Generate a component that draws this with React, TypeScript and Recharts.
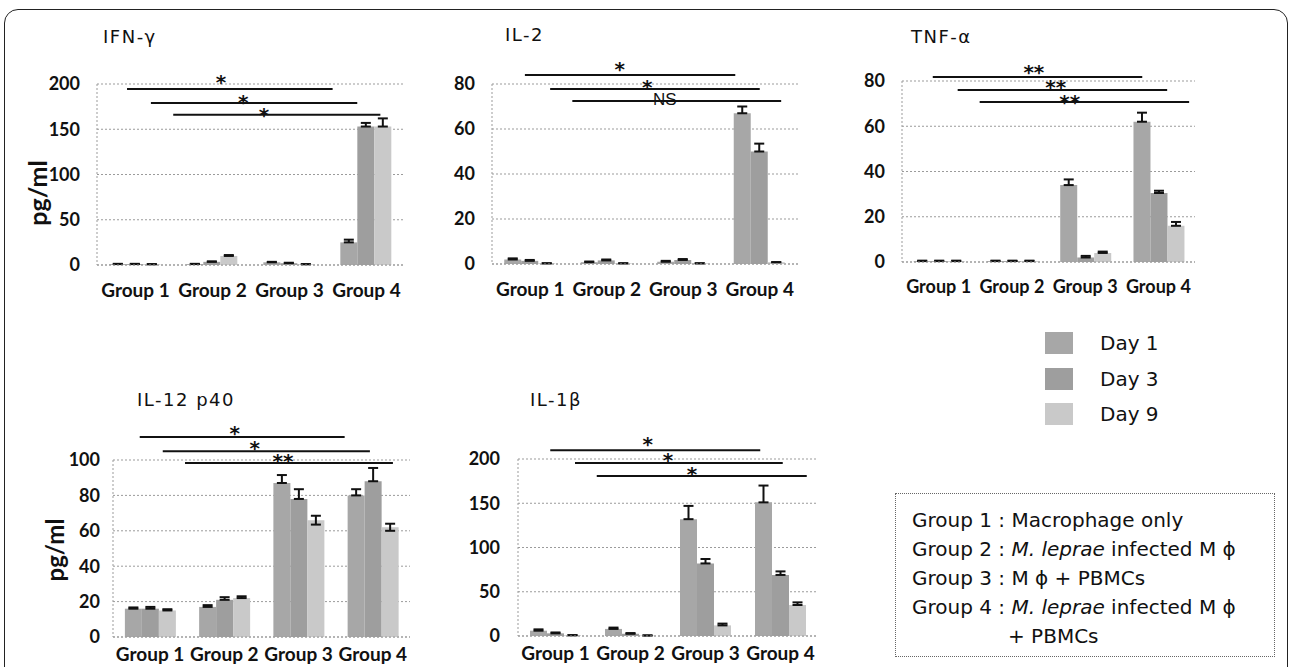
import React from 'react';
import { BarChart, Bar, XAxis, YAxis, CartesianGrid, ErrorBar, ReferenceLine, ReferenceDot } from 'recharts';

const groups = ['Group 1', 'Group 2', 'Group 3', 'Group 4'];
const days = ['Day 1', 'Day 3', 'Day 9'];
const dayColors = ['#a7a7a7', '#9e9e9e', '#c9c9c9'];

// rows = Day 1, Day 3, Day 9 ; columns = Group 1..4 (pg/ml)
const ifnValues = [
  [1, 1, 3, 25],
  [1, 3.5, 2, 153],
  [0.8, 10, 0.8, 153],
];
const ifnErrors = [
  [0.3, 0.3, 0.5, 3],
  [0.3, 0.5, 0.5, 4],
  [0.2, 1, 0.2, 9],
];

const il2Values = [
  [2, 0.8, 1, 67],
  [1.4, 1.6, 1.8, 50],
  [0.3, 0.3, 0.3, 0.8],
];
const il2Errors = [
  [0.5, 0.3, 0.4, 3],
  [0.4, 0.4, 0.4, 3.5],
  [0, 0, 0, 0],
];

const tnfValues = [
  [0.4, 0.4, 34, 62],
  [0.4, 0.4, 2, 30.5],
  [0.4, 0.4, 4, 16],
];
const tnfErrors = [
  [0.2, 0.2, 2.5, 4],
  [0.2, 0.2, 0.7, 1],
  [0.2, 0.2, 0.6, 1.7],
];

const il12Values = [
  [16, 17, 87, 80],
  [16, 21, 78, 88],
  [15, 22, 66, 62],
];
const il12Errors: (number | [number, number])[][] = [
  [0.7, 1, 4.5, 3.5],
  [1, 1.5, 5.5, 7.5],
  [0.7, 1, [2.5, 2.5], [2, 2]],
];

const il1bValues = [
  [6, 8, 132, 151],
  [3, 2.5, 82, 69],
  [0.8, 0.5, 12, 35],
];
const il1bErrors = [
  [1.5, 1.5, 15, 19],
  [1, 0.8, 5, 4],
  [0.2, 0.2, 2, 3],
];

// significance brackets: x in category units (0..4), y in pg/ml
type Bracket = { x1: number; x2: number; y: number; mark: string; mx: number; my: number };

const ifnBrackets: Bracket[] = [
  { x1: 0.39, x2: 3.06, y: 194.5, mark: '*', mx: 1.61, my: 208 },
  { x1: 0.7, x2: 3.38, y: 179, mark: '*', mx: 1.9, my: 186 },
  { x1: 0.99, x2: 3.68, y: 166, mark: '*', mx: 2.17, my: 171 },
];
const il2Brackets: Bracket[] = [
  { x1: 0.43, x2: 3.18, y: 84, mark: '*', mx: 1.67, my: 88.9 },
  { x1: 0.76, x2: 3.5, y: 77.8, mark: '*', mx: 2.03, my: 80.9 },
  { x1: 1.05, x2: 3.78, y: 72.4, mark: 'NS', mx: 2.26, my: 73.3 },
];
const tnfBrackets: Bracket[] = [
  { x1: 0.42, x2: 3.28, y: 81.8, mark: '**', mx: 1.8, my: 86.2 },
  { x1: 0.76, x2: 3.62, y: 76, mark: '**', mx: 2.1, my: 79.6 },
  { x1: 1.06, x2: 3.92, y: 70.7, mark: '**', mx: 2.29, my: 72.9 },
];
const il12Brackets: Bracket[] = [
  { x1: 0.36, x2: 3.12, y: 113, mark: '*', mx: 1.64, my: 118 },
  { x1: 0.67, x2: 3.46, y: 105, mark: '*', mx: 1.91, my: 109.6 },
  { x1: 0.97, x2: 3.77, y: 98.3, mark: '**', mx: 2.29, my: 102 },
];
const il1bBrackets: Bracket[] = [
  { x1: 0.43, x2: 3.23, y: 210, mark: '*', mx: 1.73, my: 222.6 },
  { x1: 0.76, x2: 3.53, y: 195.5, mark: '*', mx: 2.0, my: 204.5 },
  { x1: 1.05, x2: 3.85, y: 180.8, mark: '*', mx: 2.32, my: 188.7 },
];

const ticks200 = [0, 50, 100, 150, 200];
const ticks80 = [0, 20, 40, 60, 80];
const ticks100 = [0, 20, 40, 60, 80, 100];

const valueKeys = ['d1', 'd3', 'd9'];
const errorKeys = ['e1', 'e3', 'e9'];

const toErr = (e: number | [number, number]) => (typeof e === 'number' ? [0, e] : e);

const grid = '#9b9b9b';
const axisFont = 'Lato, "Open Sans", sans-serif';

type PanelProps = {
  left: number;
  top: number;
  width: number;
  height: number;
  xHeight: number;
  values: number[][];
  errors: (number | [number, number])[][];
  max: number;
  ticks: number[];
  brackets: Bracket[];
  yTickMargin: number;
  xTickMargin: number;
  fontSize: number;
  xFontSize: number;
};

function MarkText(props: any) {
  const { cx, cy, mark } = props;
  const isNS = mark === 'NS';
  return (
    <text
      x={cx}
      y={cy}
      dy={isNS ? '0.36em' : '0.6em'}
      textAnchor="middle"
      fill="#111"
      fontFamily={isNS ? '"Liberation Sans", Arial, sans-serif' : '"DejaVu Sans", sans-serif'}
      fontWeight={isNS ? 400 : 700}
      fontSize={isNS ? 17 : 20}
    >
      {mark}
    </text>
  );
}

function Panel(p: PanelProps) {
  const data = groups.map((g, i) => ({
    group: g,
    pos: i + 0.5,
    d1: p.values[0][i],
    d3: p.values[1][i],
    d9: p.values[2][i],
    e1: toErr(p.errors[0][i]),
    e3: toErr(p.errors[1][i]),
    e9: toErr(p.errors[2][i]),
  }));
  const yTick = { fill: '#111', fontSize: p.fontSize, fontWeight: 700, fontFamily: axisFont };
  const xTick = { ...yTick, fontSize: p.xFontSize };
  return (
    <div style={{ position: 'absolute', left: p.left, top: p.top }}>
      <BarChart
        width={p.width}
        height={p.height}
        data={data}
        margin={{ top: 50, right: 10, left: 0, bottom: 0 }}
        barCategoryGap="16%"
        barGap={0}
      >
        <CartesianGrid vertical={false} stroke={grid} strokeDasharray="2 2" />
        <XAxis
          dataKey="group"
          interval={0}
          height={p.xHeight}
          tickLine={false}
          tickMargin={p.xTickMargin}
          axisLine={{ stroke: grid, strokeDasharray: '2 2' }}
          tick={xTick}
        />
        <XAxis xAxisId="n" dataKey="pos" type="number" domain={[0, 4]} allowDataOverflow hide />
        <YAxis
          width={60}
          domain={[0, p.max]}
          ticks={p.ticks}
          interval={0}
          allowDataOverflow
          tickLine={false}
          tickMargin={p.yTickMargin}
          axisLine={{ stroke: grid, strokeDasharray: '2 2' }}
          tick={yTick}
        />
        {days.map((d, k) => (
          <Bar key={d} dataKey={valueKeys[k]} name={d} fill={dayColors[k]} isAnimationActive={false}>
            <ErrorBar dataKey={errorKeys[k]} direction="y" width={5} strokeWidth={2} stroke="#111" />
          </Bar>
        ))}
        {p.brackets.map((b, i) => (
          <ReferenceLine
            key={'l' + i}
            xAxisId="n"
            segment={[{ x: b.x1, y: b.y }, { x: b.x2, y: b.y }]}
            stroke="#111"
            strokeWidth={2}
            ifOverflow="visible"
          />
        ))}
        {p.brackets.map((b, i) => (
          <ReferenceDot
            key={'m' + i}
            xAxisId="n"
            x={b.mx}
            y={b.my}
            ifOverflow="visible"
            shape={(s: any) => <MarkText cx={s.cx} cy={s.cy} mark={b.mark} />}
          />
        ))}
      </BarChart>
    </div>
  );
}

const titleStyle: React.CSSProperties = {
  position: 'absolute',
  fontFamily: '"DejaVu Sans", sans-serif',
  fontSize: 18,
  lineHeight: '18px',
  letterSpacing: 1.5,
  color: '#111',
  whiteSpace: 'nowrap',
};

function YLabel({ x, y, size }: { x: number; y: number; size: number }) {
  return (
    <div
      style={{
        position: 'absolute',
        left: x,
        top: y,
        transform: 'translate(-50%, -50%) rotate(-90deg)',
        fontFamily: axisFont,
        fontWeight: 700,
        fontSize: size,
        lineHeight: 1,
        color: '#111',
        whiteSpace: 'nowrap',
      }}
    >
      pg/ml
    </div>
  );
}

const legendFont = '"DejaVu Sans", sans-serif';

export default function App() {
  return (
    <div style={{ position: 'absolute', left: 0, top: 0, width: 1291, height: 667, overflow: 'hidden', background: '#fff' }}>
      <div
        style={{
          position: 'absolute',
          left: 4,
          top: 9,
          width: 1284,
          height: 720,
          border: '1.5px solid #222',
          borderRadius: 14,
          boxSizing: 'border-box',
        }}
      />

      <div style={{ ...titleStyle, left: 103, top: 28 }}>IFN-γ</div>
      <div style={{ ...titleStyle, left: 505, top: 26 }}>IL-2</div>
      <div style={{ ...titleStyle, left: 911, top: 28 }}>TNF-α</div>
      <div style={{ ...titleStyle, left: 137, top: 391 }}>IL-12 p40</div>
      <div style={{ ...titleStyle, left: 530, top: 391 }}>IL-1β</div>

      <YLabel x={37} y={193} size={25} />
      <YLabel x={55} y={550} size={24} />

      <Panel left={37} top={34} width={378} height={271} xHeight={40} values={ifnValues} errors={ifnErrors}
        max={200} ticks={ticks200} brackets={ifnBrackets} yTickMargin={11} xTickMargin={13} fontSize={18} xFontSize={19} />
      <Panel left={432} top={34} width={376} height={270} xHeight={40} values={il2Values} errors={il2Errors}
        max={80} ticks={ticks80} brackets={il2Brackets} yTickMargin={11} xTickMargin={13} fontSize={18} xFontSize={19} />
      <Panel left={842} top={31} width={363} height={271} xHeight={40} values={tnfValues} errors={tnfErrors}
        max={80} ticks={ticks80} brackets={tnfBrackets} yTickMargin={11} xTickMargin={12} fontSize={18} xFontSize={18} />
      <Panel left={53} top={410} width={367} height={257} xHeight={30} values={il12Values} errors={il12Errors}
        max={100} ticks={ticks100} brackets={il12Brackets} yTickMargin={7} xTickMargin={5} fontSize={18} xFontSize={19} />
      <Panel left={458} top={409} width={370} height={257} xHeight={30} values={il1bValues} errors={il1bErrors}
        max={200} ticks={ticks200} brackets={il1bBrackets} yTickMargin={12} xTickMargin={5} fontSize={18} xFontSize={19} />

      <div style={{ position: 'absolute', left: 1045, top: 332, display: 'flex', flexDirection: 'column', gap: 13.5 }}>
        {days.map((d, k) => (
          <div key={d} style={{ display: 'flex', alignItems: 'center', height: 22 }}>
            <div style={{ width: 28, height: 22, background: dayColors[k] }} />
            <span style={{ marginLeft: 27, fontFamily: legendFont, fontSize: 20, color: '#111' }}>{d}</span>
          </div>
        ))}
      </div>

      <div
        style={{
          position: 'absolute',
          left: 895,
          top: 493,
          width: 380,
          height: 164,
          boxSizing: 'border-box',
          border: '1.5px dotted #666',
          padding: '12px 0 0 16px',
          fontFamily: legendFont,
          fontSize: 20,
          lineHeight: '29px',
          color: '#111',
          whiteSpace: 'nowrap',
        }}
      >
        <div>Group 1 : Macrophage only</div>
        <div>Group 2 : <i>M. leprae</i> infected M ϕ</div>
        <div>Group 3 : M ϕ + PBMCs</div>
        <div>Group 4 : <i>M. leprae</i> infected M ϕ</div>
        <div style={{ paddingLeft: 96 }}>+ PBMCs</div>
      </div>
    </div>
  );
}
